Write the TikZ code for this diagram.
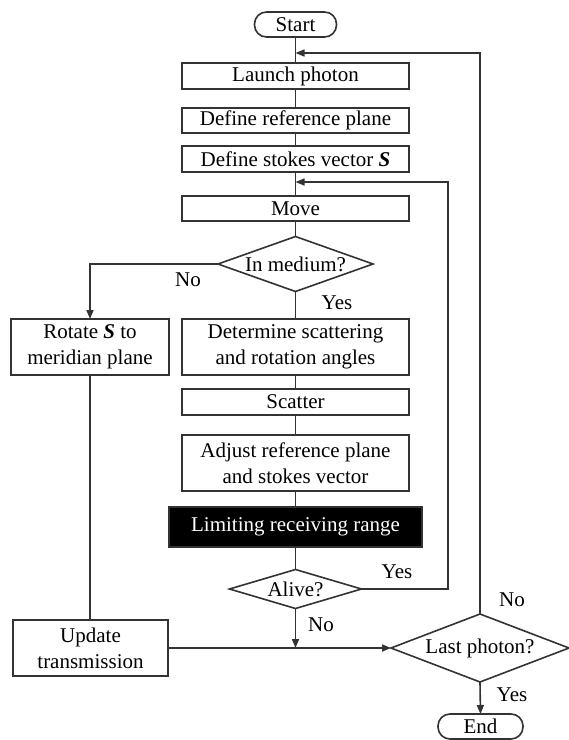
\documentclass[tikz,border=0pt]{standalone}
\usepackage{fontspec}
\setmainfont{Liberation Serif}
\usetikzlibrary{shapes.geometric,arrows.meta}
\begin{document}
\begin{tikzpicture}[x=1pt,y=-1pt,
  font=\fontsize{21}{26}\selectfont,
  line/.style={draw=black!80, line width=1.6pt},
  arr/.style={line, -{Triangle[length=9pt,width=7pt]}},
  box/.style={draw=black!80, line width=1.6pt, fill=white, inner sep=0pt, outer sep=0pt, minimum width=227pt, align=center},
  term/.style={box, rounded corners=12pt, minimum width=82pt, minimum height=25pt},
  dia/.style={diamond, draw=black!80, line width=1.6pt, fill=white, inner sep=0pt, outer sep=0pt, align=center},
  lbl/.style={inner sep=0pt}
]
\useasboundingbox (0,0) rectangle (569,740);
\node[term] (start) at (295.5,24.5) {Start};
\node[box, minimum height=26pt] (launch) at (295.5,76) {Launch photon};
\node[box, minimum height=25pt] (defref) at (295.5,120.5) {Define reference plane};
\node[box, minimum height=26pt] (stokes) at (295.5,159) {Define stokes vector \textbf{\textit{S}}};
\node[box, minimum height=25pt] (move) at (295.5,208.5) {Move};
\node[dia, minimum width=155pt, minimum height=55pt, aspect=2.8] (inmed) at (295.5,264) {In medium?};
\node[box, minimum height=56pt] (det) at (295.5,347) {Determine scattering\\and rotation angles};
\node[box, minimum height=26pt] (scat) at (295.5,402) {Scatter};
\node[box, minimum height=56pt] (adj) at (295.5,463) {Adjust reference plane\\and stokes vector};
\node[box, fill=black, text=white, minimum width=253pt, minimum height=40pt] (lim) at (295.5,527) {Limiting receiving range};
\node[dia, minimum width=132pt, minimum height=39pt, aspect=3.4] (alive) at (295.5,589) {Alive?};
\node[box, minimum width=158pt, minimum height=56pt] (rot) at (90,347) {Rotate \textbf{\textit{S}} to\\meridian plane};
\node[box, minimum width=155pt, minimum height=56pt] (upd) at (90.5,648) {Update\\transmission};
\node[dia, minimum width=178pt, minimum height=68pt, aspect=2.6] (last) at (480,648) {Last photon?};
\node[term, minimum width=85pt] (end) at (480.5,726.5) {End};

\coordinate (j1) at (295.5,53);
\coordinate (j2) at (295.5,182);
\coordinate (j3) at (295.5,648);
\coordinate (c1) at (480,53);
\coordinate (c2) at (448,182);

\draw[line] (start) -- (launch) -- (defref) -- (stokes) -- (move) -- (inmed) -- (det) -- (scat) -- (adj) -- (lim) -- (alive);
\draw[arr] (inmed.west) -| (rot.north);
\draw[line] (rot.south) -- (rot.south |- upd.north);
\draw[arr] (upd.east) -- (last.west);
\draw[arr] (alive.south) -- (j3);
\draw[arr] (alive.east) -| (c2) -- (j2);
\draw[arr] (last.north) -- (c1) -- (j1);
\draw[arr] (last.south) -- (end.north);

\node[lbl] (no1) at (188,280) {No};
\node[lbl] (yes1) at (337,303) {Yes};
\node[lbl] (yes2) at (397,572) {Yes};
\node[lbl] (no2) at (321,625) {No};
\node[lbl] (no3) at (512,600) {No};
\node[lbl] (yes3) at (512,695) {Yes};
\end{tikzpicture}
\end{document}
